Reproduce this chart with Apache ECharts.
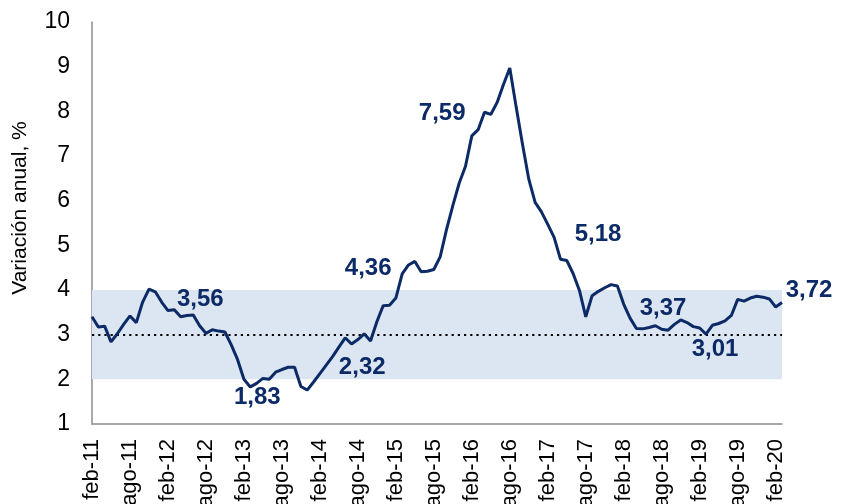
<!DOCTYPE html>
<html>
<head>
<meta charset="utf-8">
<script src="https://cdn.jsdelivr.net/npm/echarts@6/dist/echarts.min.js"></script>
<style>html,body{margin:0;padding:0;background:#fff}#c{width:846px;height:504px}</style>
</head>
<body>
<div id="c"></div>
<script>
// Monthly categories: ene-11 ... feb-20
const monthNames = ['ene','feb','mar','abr','may','jun','jul','ago','sep','oct','nov','dic'];
const categories = [];
for (let y = 11; y <= 20; y++) {
  for (let m = 0; m < 12; m++) {
    if (y === 20 && m > 1) break;
    categories.push(monthNames[m] + '-' + y);
  }
}
// Annual variation, %
const values2011 = [3.40, 3.17, 3.19, 2.84, 3.02, 3.23, 3.42, 3.27, 3.73, 4.02, 3.96, 3.73];
const values2012 = [3.54, 3.56, 3.40, 3.43, 3.44, 3.20, 3.03, 3.11, 3.08, 3.06, 2.77, 2.44];
const values2013 = [2.00, 1.83, 1.91, 2.02, 2.00, 2.16, 2.22, 2.27, 2.27, 1.84, 1.76, 1.94];
const values2014 = [2.13, 2.32, 2.51, 2.72, 2.93, 2.79, 2.89, 3.02, 2.86, 3.29, 3.65, 3.66];
const values2015 = [3.82, 4.36, 4.56, 4.64, 4.41, 4.42, 4.46, 4.74, 5.35, 5.89, 6.39, 6.77];
const values2016 = [7.45, 7.59, 7.98, 7.93, 8.20, 8.60, 8.97, 8.10, 7.27, 6.48, 5.96, 5.75];
const values2017 = [5.47, 5.18, 4.69, 4.66, 4.37, 3.99, 3.40, 3.87, 3.97, 4.05, 4.12, 4.09];
const values2018 = [3.68, 3.37, 3.14, 3.13, 3.16, 3.20, 3.12, 3.10, 3.23, 3.33, 3.27, 3.18];
const values2019 = [3.15, 3.01, 3.21, 3.25, 3.31, 3.43, 3.79, 3.75, 3.82, 3.86, 3.84, 3.80];
const values2020 = [3.62, 3.72];
const values = [].concat(values2011, values2012, values2013, values2014, values2015,
  values2016, values2017, values2018, values2019, values2020);

// Tick labels shown every 6 categories
const tickLabels = ['feb-11','ago-11','feb-12','ago-12','feb-13','ago-13','feb-14','ago-14','feb-15',
  'ago-15','feb-16','ago-16','feb-17','ago-17','feb-18','ago-18','feb-19','ago-19','feb-20'];

// Target band and target
const bandLow = 2, bandHigh = 4, target = 3;

// Labelled points (category indices)
const labelIdx = [13, 25, 37, 49, 61, 73, 85, 97, 109];
// label offsets (style)
const labelOffsets = {13:[26,-10], 25:[7,10], 37:[36,2], 49:[-34,-6], 61:[-36,-16], 73:[44,-3], 85:[33,-10], 97:[9,15], 109:[27,-12]};

const navy = '#0c2a66';
const font = 'Liberation Sans, Arial, sans-serif';

const chart = echarts.init(document.getElementById('c'), null, {renderer: 'canvas'});
chart.setOption({
  animation: false,
  backgroundColor: '#fff',
  grid: {left: 92, right: 64, top: 22, bottom: 80, containLabel: false, outerBoundsMode: 'none'},
  xAxis: {
    type: 'category',
    data: categories,
    boundaryGap: false,
    axisLine: {show: true, lineStyle: {color: '#8c8c8c', width: 1.5}},
    axisTick: {show: false},
    splitLine: {show: false},
    axisLabel: {
      interval: function (idx) { return idx % 6 === 0; },
      formatter: function (val, idx) { return idx % 6 === 0 ? tickLabels[idx / 6] : ''; },
      rotate: 90,
      margin: 15,
      fontSize: 22,
      color: '#000',
      fontFamily: font
    }
  },
  yAxis: {
    type: 'value',
    min: 1, max: 10, interval: 1,
    axisLine: {show: true, lineStyle: {color: '#8c8c8c', width: 1.5}},
    axisTick: {show: false},
    splitLine: {show: false},
    axisLabel: {fontSize: 23, color: '#000', margin: 22, fontFamily: font}
  },
  graphic: [{
    type: 'text',
    x: 20, y: 208,
    rotation: Math.PI / 2,
    style: {
      text: 'Variación anual, %',
      fontSize: 21,
      fontFamily: font,
      fill: '#000',
      textAlign: 'center',
      textVerticalAlign: 'middle'
    }
  }],
  series: [{
    type: 'line',
    data: values,
    showSymbol: false,
    symbol: 'none',
    lineStyle: {color: navy, width: 3},
    z: 5,
    markArea: {
      silent: true,
      itemStyle: {color: '#dce6f2'},
      data: [[{yAxis: bandLow}, {yAxis: bandHigh}]]
    },
    markLine: {
      silent: true,
      symbol: 'none',
      label: {show: false},
      lineStyle: {color: '#000', type: [2.2, 4], width: 2.2},
      data: [{yAxis: target}]
    }
  }, {
    type: 'scatter',
    symbolSize: 0,
    z: 6,
    itemStyle: {opacity: 1},
    data: labelIdx.map(function (i) {
      return {
        value: [i, values[i]],
        label: {
          show: true,
          position: 'inside',
          offset: labelOffsets[i],
          formatter: function (p) { return p.value[1].toFixed(2).replace('.', ','); },
          fontSize: 24,
          fontWeight: 'bold',
          color: navy,
          opacity: 1,
          textBorderWidth: 0,
          textBorderColor: 'transparent',
          fontFamily: font
        }
      };
    })
  }]
});
</script>
</body>
</html>
